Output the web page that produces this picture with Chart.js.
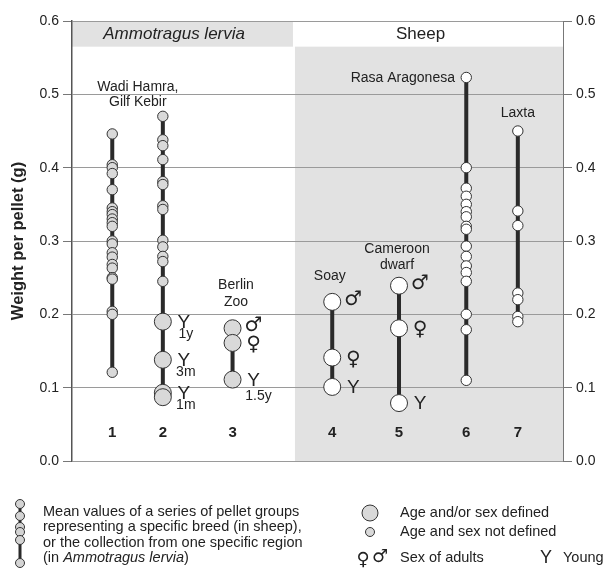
<!DOCTYPE html>
<html>
<head>
<meta charset="utf-8">
<script src="https://cdn.jsdelivr.net/npm/chart.js@4.4.1/dist/chart.umd.min.js"></script>
<style>
  body{margin:0;background:#fff}
  canvas{display:block}
</style>
</head>
<body>
<canvas id="chart" width="605" height="569"></canvas>
<script>
/* pellet weight per breed / region
   - columns 1-3 Ammotragus lervia, 4-7 sheep
   - small circles: age and sex not defined, big: age and/or sex defined
*/
const colNames = ["1","2","3","4","5","6","7"];
const colX = [0.82, 1.85, 3.27, 5.30, 6.66, 8.03, 9.08];

const small1 = [0.446,0.404,0.400,0.392,0.370,0.345,0.340,0.336,0.330,0.325,0.320,0.300,0.296,0.284,0.278,0.268,0.263,0.250,0.248,0.204,0.200,0.121];
const small2 = [0.470,0.438,0.430,0.411,0.381,0.377,0.348,0.343,0.301,0.292,0.279,0.272,0.245];
const small6 = [0.523,0.400,0.372,0.361,0.350,0.340,0.333,0.320,0.316,0.293,0.279,0.266,0.257,0.245,0.200,0.179,0.110];
const small7 = [0.450,0.341,0.321,0.229,0.220,0.197,0.190];
const smallVals = [small1, small2, [], [], [], small6, small7];

const bigVals = [[], [0.190,0.138,0.093,0.087], [0.181,0.161,0.111], [0.217,0.141,0.101], [0.239,0.181,0.079], [], []];
const bigTag  = [[], ["Y","Y","Y",""], ["♂","♀","Y"], ["♂","♀","Y"], ["♂","♀","Y"], [], []];
const bigSub  = [[], ["1y","3m","1m",""], ["","","1.5y"], ["","",""], ["","",""], [], []];

const yTicks = [0, 0.1, 0.2, 0.3, 0.4, 0.5, 0.6];
const groupNames = ["Ammotragus lervia", "Sheep"];
const groupSplit = 4.5;   // x value where sheep block starts
const headerBase = 0.565; // header band lower edge

const noteText  = ["Wadi Hamra,", "Gilf Kebir", "Berlin", "Zoo", "Soay", "Cameroon", "dwarf", "Rasa Aragonesa", "Laxta"];
const noteX     = [1.34, 1.34, 3.34, 3.34, 5.25, 6.62, 6.62, 7.80, 9.08];
const noteY     = [0.510, 0.490, 0.240, 0.217, 0.252, 0.289, 0.267, 0.522, 0.475];
const noteAlign = ["center","center","center","center","center","center","center","right","center"];

const FONT = "'Liberation Sans', Arial, sans-serif";
const LINE = "#2a2a2a";
const fillFor = (i)=> i < 3 ? "#d9d9d9" : "#ffffff";

const datasets = [];
colX.forEach((x, i)=>{
  const all = [...smallVals[i], ...bigVals[i]].sort((a,b)=>b-a);
  datasets.push({
    data: all.map(v=>({x, y:v})),
    showLine:true, pointRadius:0, borderColor:LINE, borderWidth:4, order:3
  });
  if (smallVals[i].length) datasets.push({
    data: smallVals[i].map(v=>({x, y:v})),
    pointRadius:5.2, pointBackgroundColor:fillFor(i), pointBorderColor:"#333", pointBorderWidth:1, order:2
  });
  if (bigVals[i].length) datasets.push({
    data: bigVals[i].map(v=>({x, y:v})),
    pointRadius:8.5, pointBackgroundColor:fillFor(i), pointBorderColor:"#333", pointBorderWidth:1, order:1,
    col:i
  });
});

const backdrop = {
  id:"backdrop",
  beforeDraw(chart){
    const {ctx, scales:{x, y}} = chart;
    ctx.save();
    ctx.fillStyle = "#e2e2e2";
    // header band for Ammotragus
    ctx.fillRect(x.getPixelForValue(0), y.getPixelForValue(0.6)+1, x.getPixelForValue(groupSplit)-x.getPixelForValue(0), y.getPixelForValue(headerBase)-y.getPixelForValue(0.6)-1);
    // sheep block
    ctx.fillRect(x.getPixelForValue(groupSplit)+2, y.getPixelForValue(headerBase), x.getPixelForValue(10)-x.getPixelForValue(groupSplit)-2, y.getPixelForValue(0)-y.getPixelForValue(headerBase));
    ctx.restore();
  }
};

const labels = {
  id:"labels",
  afterDatasetsDraw(chart){
    const {ctx, scales:{x, y}} = chart;
    ctx.save();
    ctx.fillStyle = "#222";
    ctx.textBaseline = "middle";

    // group headers
    const hy = y.getPixelForValue((0.6+headerBase)/2);
    ctx.textAlign = "center";
    ctx.font = "italic 17px " + FONT;
    ctx.fillText(groupNames[0], x.getPixelForValue(2.08), hy);
    ctx.font = "17px " + FONT;
    ctx.fillText(groupNames[1], x.getPixelForValue(7.1), hy);

    // notes
    ctx.font = "14px " + FONT;
    noteText.forEach((t,k)=>{
      ctx.textAlign = noteAlign[k];
      ctx.fillText(t, x.getPixelForValue(noteX[k]), y.getPixelForValue(noteY[k]));
    });

    // column numbers
    ctx.font = "bold 15px " + FONT;
    ctx.textAlign = "center";
    colNames.forEach((n,i)=> ctx.fillText(n, x.getPixelForValue(colX[i]), y.getPixelForValue(0.038)));

    // sex / young tags beside big circles
    chart.data.datasets.forEach((ds, di)=>{
      if (ds.col == null) return;
      const pts = chart.getDatasetMeta(di).data;
      pts.forEach((p, k)=>{
        const tag = bigTag[ds.col][k];
        if (!tag) return;
        const px = p.x + 21, py = p.y;
        ctx.textAlign = "center";
        if (tag === "Y"){
          ctx.font = "19px " + FONT;
          ctx.fillText("Y", px, py+1);
        } else {
          ctx.font = "bold 20px 'DejaVu Sans', sans-serif";
          ctx.fillText(tag, px, tag === "♂" ? py - 2 : py + 2);
        }
        const sub = bigSub[ds.col][k];
        if (sub){
          ctx.font = "14px " + FONT;
          const long = sub.length > 2;
          ctx.fillText(sub, px + (long ? 5 : 2), py + (long ? 17 : 12));
        }
      });
    });

    // y axis title
    ctx.save();
    ctx.translate(18, (chart.chartArea.top+chart.chartArea.bottom)/2);
    ctx.rotate(-Math.PI/2);
    ctx.font = "bold 16.5px " + FONT;
    ctx.textAlign = "center";
    ctx.fillText("Weight per pellet (g)", 0, 0);
    ctx.restore();

    ctx.restore();
  }
};

const legendBox = {
  id:"legendBox",
  afterDraw(chart){
    const {ctx} = chart;
    ctx.save();
    // chain icon
    ctx.strokeStyle = LINE; ctx.lineWidth = 3;
    ctx.beginPath(); ctx.moveTo(20, 504); ctx.lineTo(20, 566); ctx.stroke();
    ctx.lineWidth = 1; ctx.strokeStyle = "#333"; ctx.fillStyle = "#d4d4d4";
    [504, 516, 527, 532, 540, 563].forEach(cy=>{
      ctx.beginPath(); ctx.arc(20, cy, 4.5, 0, Math.PI*2); ctx.fill(); ctx.stroke();
    });

    ctx.fillStyle = "#222";
    ctx.textBaseline = "middle";
    ctx.textAlign = "left";
    const f = "14.5px " + FONT;
    ctx.font = f;
    ctx.fillText("Mean values of a series of pellet groups", 43, 512);
    ctx.fillText("representing a specific breed (in sheep),", 43, 527);
    ctx.fillText("or the collection from one specific region", 43, 543);
    let tx = 43;
    ctx.fillText("(in ", tx, 558); tx += ctx.measureText("(in ").width;
    ctx.font = "italic " + f;
    ctx.fillText("Ammotragus lervia", tx, 558); tx += ctx.measureText("Ammotragus lervia").width;
    ctx.font = f;
    ctx.fillText(")", tx, 558);

    // circles legend
    ctx.strokeStyle = "#333"; ctx.fillStyle = "#d9d9d9";
    ctx.beginPath(); ctx.arc(370, 513, 8, 0, Math.PI*2); ctx.fill(); ctx.stroke();
    ctx.beginPath(); ctx.arc(370, 532, 4.5, 0, Math.PI*2); ctx.fill(); ctx.stroke();

    ctx.fillStyle = "#222";
    ctx.fillText("Age and/or sex defined", 400, 513);
    ctx.fillText("Age and sex not defined", 400, 532);
    ctx.fillText("Sex of adults", 400, 558);
    ctx.fillText("Young", 563, 558);
    ctx.font = "18px " + FONT;
    ctx.fillText("Y", 540, 558);
    ctx.font = "bold 18px 'DejaVu Sans', sans-serif";
    ctx.textAlign = "center";
    ctx.fillText("♀", 363, 560);
    ctx.fillText("♂", 380, 557);
    ctx.restore();
  }
};

const tickFmt = (v)=> yTicks.some(t=>Math.abs(t-v)<1e-6) ? v.toFixed(1) : "";

new Chart(document.getElementById("chart"), {
  type:"scatter",
  data:{datasets},
  options:{
    responsive:false,
    animation:false,
    layout:{padding:{top:21, bottom:108, left:0, right:0}},
    plugins:{legend:{display:false}, tooltip:{enabled:false}},
    scales:{
      x:{type:"linear", min:0, max:10, display:false},
      y:{
        position:"left", min:0, max:0.6,
        afterFit:(s)=>{ s.width = 72; },
        ticks:{stepSize:0.1, callback:tickFmt, color:"#222", padding:4, font:{size:14, family:FONT}},
        grid:{color:"#9a9a9a", lineWidth:1, tickLength:9, tickColor:"#777"},
        border:{display:true, color:"#555", width:1.5}
      },
      y2:{
        position:"right", min:0, max:0.6,
        afterFit:(s)=>{ s.width = 42; },
        ticks:{stepSize:0.1, callback:tickFmt, color:"#222", padding:4, font:{size:14, family:FONT}},
        grid:{drawOnChartArea:false, tickLength:9, tickColor:"#777"},
        border:{display:true, color:"#777", width:1}
      }
    }
  },
  plugins:[backdrop, labels, legendBox]
});
</script>
</body>
</html>
